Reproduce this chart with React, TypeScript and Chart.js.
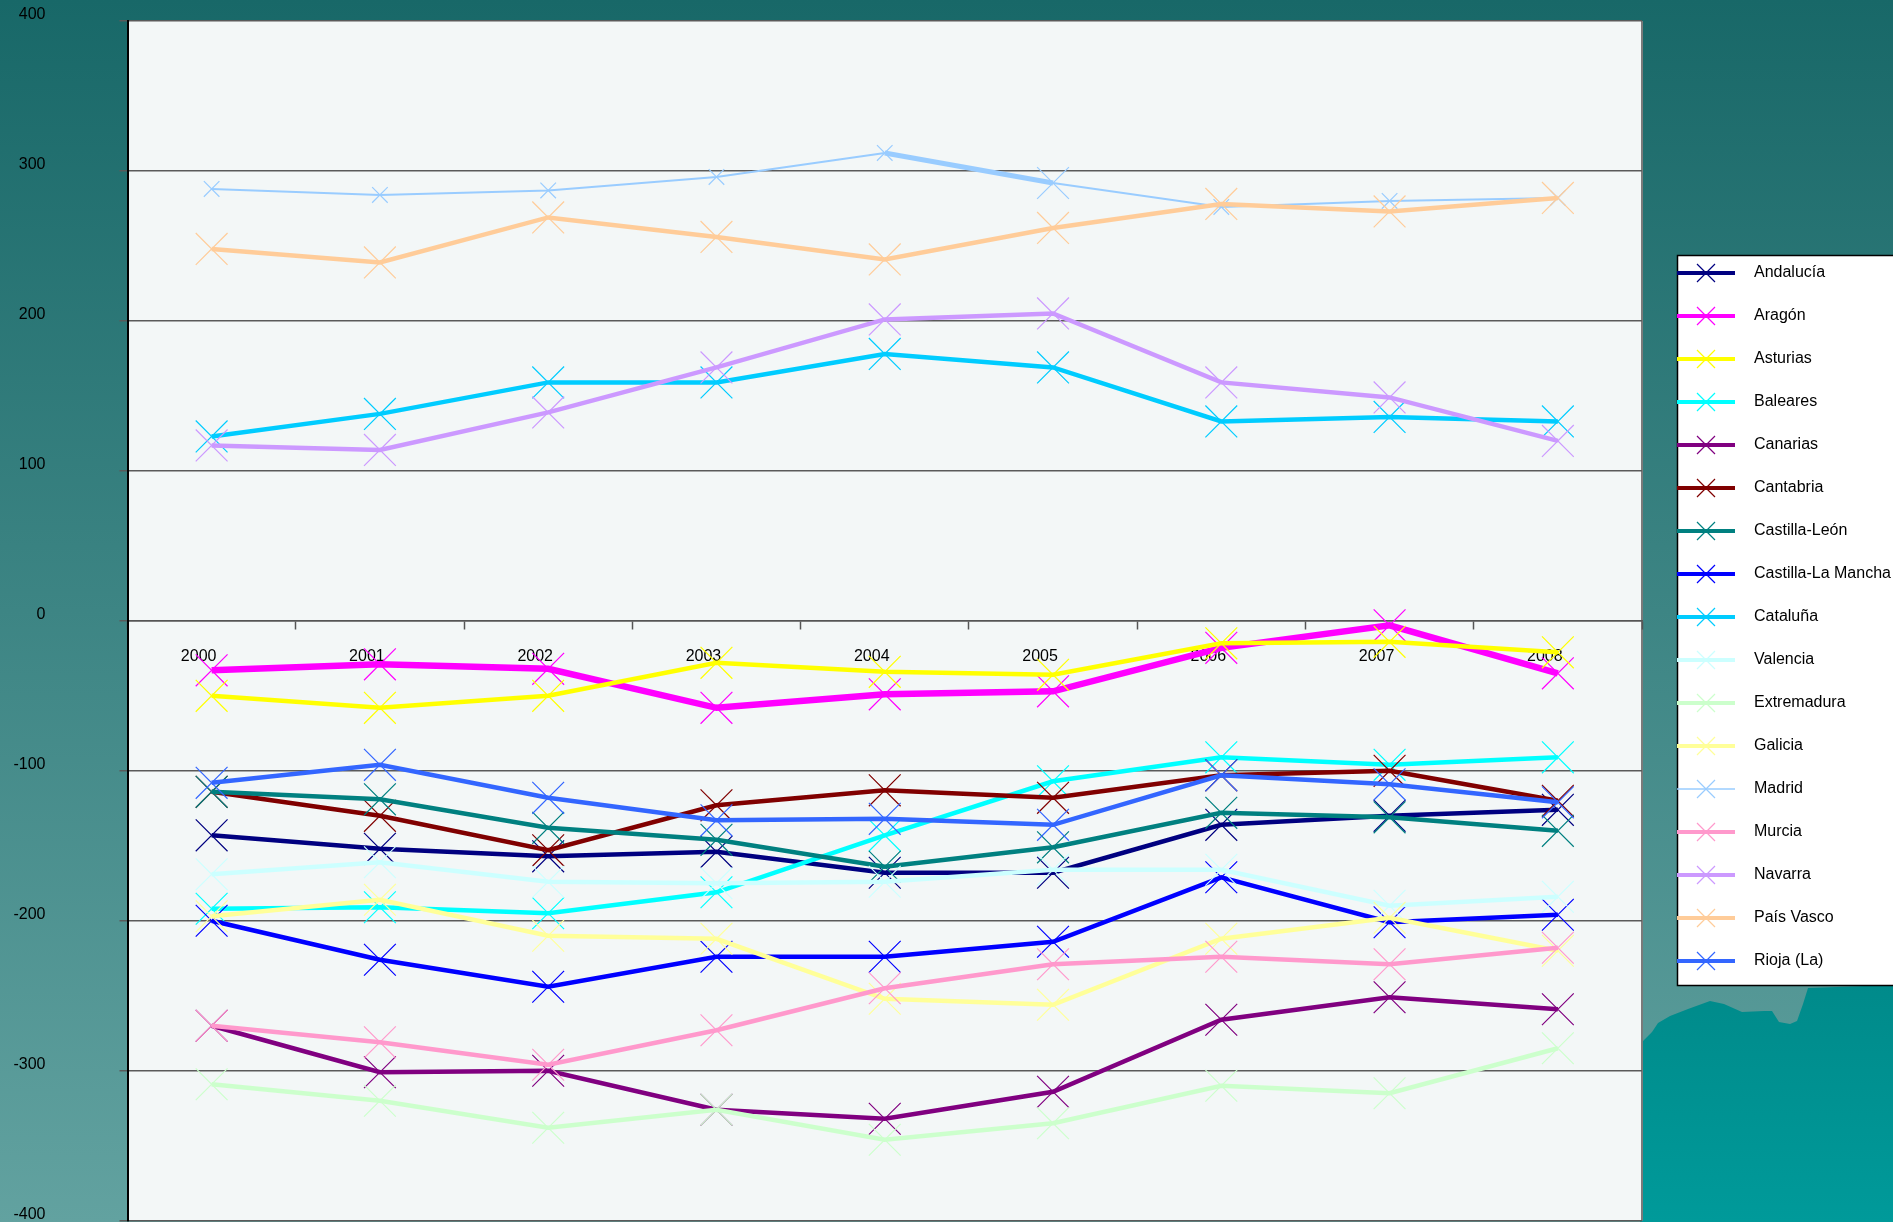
import React, { useEffect, useRef } from 'react';
import { Chart, registerables } from 'chart.js';

Chart.register(...registerables);

const years = ['2000', '2001', '2002', '2003', '2004', '2005', '2006', '2007', '2008'];

const regionNames = [
  'Andalucía', 'Aragón', 'Asturias', 'Baleares', 'Canarias', 'Cantabria',
  'Castilla-León', 'Castilla-La Mancha', 'Cataluña', 'Valencia', 'Extremadura',
  'Galicia', 'Madrid', 'Murcia', 'Navarra', 'País Vasco', 'Rioja (La)',
];

const andalucia = [-143, -152, -157, -154, -168, -168, -136, -130, -126];
const aragon = [-33, -29, -32, -58, -49, -47, -18, -3, -35];
const asturias = [-50, -58, -50, -28, -34, -36, -15, -14, -21];
const baleares = [-192, -191, -195, -181, -143, -107, -91, -96, -91];
const canarias = [-270, -301, -300, -326, -332, -314, -266, -251, -259];
const cantabria = [-114, -130, -153, -123, -113, -118, -103, -100, -120];
const castillaLeon = [-114, -119, -138, -146, -164, -151, -128, -131, -140];
const castillaLaMancha = [-200, -226, -244, -224, -224, -214, -171, -201, -196];
const cataluna = [123, 138, 159, 159, 178, 169, 133, 136, 133];
const valencia = [-169, -161, -174, -175, -174, -166, -166, -190, -184];
const extremadura = [-309, -320, -338, -326, -346, -335, -310, -315, -285];
const galicia = [-197, -186, -210, -212, -252, -256, -212, -198, -220];
const madrid = [288, 284, 287, 296, 312, 292, 276, 280, 282];
const murcia = [-270, -281, -296, -273, -245, -229, -224, -229, -218];
const navarra = [117, 114, 139, 169, 201, 205, 159, 149, 120];
const paisVasco = [248, 239, 269, 256, 241, 262, 278, 273, 282];
const rioja = [-108, -96, -118, -133, -132, -136, -103, -109, -121];

const seriesValues = [
  andalucia, aragon, asturias, baleares, canarias, cantabria, castillaLeon,
  castillaLaMancha, cataluna, valencia, extremadura, galicia, madrid, murcia,
  navarra, paisVasco, rioja,
];

const seriesColors = [
  '#000080', '#FF00FF', '#FFFF00', '#00FFFF', '#800080', '#800000', '#008080',
  '#0000FF', '#00CCFF', '#CCFFFF', '#CCFFCC', '#FFFF99', '#99CCFF', '#FF99CC',
  '#CC99FF', '#FFCC99', '#3366FF',
];

const yTickValues = [-400, -300, -200, -100, 0, 100, 200, 300, 400];

const SANS = '"Liberation Sans", Arial, sans-serif';

const lineWidthFor = (name: string) => (name === 'Aragón' ? 6.5 : name === 'Madrid' ? 2 : 4.5);

function makeLegendImage(color: string, lw: number) {
  const c = document.createElement('canvas');
  c.width = 77;
  c.height = 24;
  const ctx = c.getContext('2d') as CanvasRenderingContext2D;
  ctx.strokeStyle = color;
  ctx.lineWidth = lw;
  ctx.beginPath();
  ctx.moveTo(8, 12);
  ctx.lineTo(66, 12);
  ctx.stroke();
  ctx.lineWidth = 1.2;
  ctx.beginPath();
  ctx.moveTo(28, 3);
  ctx.lineTo(46, 21);
  ctx.moveTo(28, 21);
  ctx.lineTo(46, 3);
  ctx.stroke();
  return c;
}

const backgroundPlugin = {
  id: 'backgroundPlugin',
  beforeDraw(chart: any) {
    const { ctx, width, height, chartArea: ca } = chart;
    ctx.save();
    const g = ctx.createLinearGradient(0, 0, 0, height);
    g.addColorStop(0, '#186868');
    g.addColorStop(1, '#62a2a0');
    ctx.fillStyle = g;
    ctx.fillRect(0, 0, width, height);

    const mg = ctx.createLinearGradient(0, 980, 0, height);
    mg.addColorStop(0, '#008a8a');
    mg.addColorStop(1, '#009a9a');
    ctx.fillStyle = mg;
    ctx.beginPath();
    ctx.moveTo(1640, 1044);
    ctx.lineTo(1652, 1032);
    ctx.lineTo(1658, 1023);
    ctx.lineTo(1670, 1016);
    ctx.lineTo(1688, 1009);
    ctx.lineTo(1710, 1001);
    ctx.lineTo(1724, 1004);
    ctx.lineTo(1742, 1012);
    ctx.lineTo(1764, 1011);
    ctx.lineTo(1772, 1011);
    ctx.lineTo(1779, 1022);
    ctx.lineTo(1790, 1024);
    ctx.lineTo(1797, 1021);
    ctx.lineTo(1803, 1004);
    ctx.lineTo(1808, 988);
    ctx.lineTo(1893, 985);
    ctx.lineTo(1893, height);
    ctx.lineTo(1640, height);
    ctx.closePath();
    ctx.fill();

    ctx.fillStyle = '#f3f7f7';
    ctx.fillRect(ca.left, ca.top, ca.right - ca.left, ca.bottom - ca.top);
    ctx.strokeStyle = '#7a7a7a';
    ctx.lineWidth = 2;
    ctx.beginPath();
    ctx.moveTo(ca.right, ca.top);
    ctx.lineTo(ca.right, ca.bottom);
    ctx.stroke();

    ctx.fillStyle = '#ffffff';
    ctx.fillRect(1677.5, 255.5, 240, 730);
    ctx.strokeStyle = '#000000';
    ctx.lineWidth = 1.5;
    ctx.strokeRect(1677.5, 255.5, 240, 730);
    ctx.restore();
  },
};

export default function App() {
  const ref = useRef<HTMLCanvasElement | null>(null);

  useEffect(() => {
    if (!ref.current) return;
    const legendImgs = regionNames.map((n, i) =>
      makeLegendImage(seriesColors[i], n === 'Madrid' ? 1.5 : 4)
    );

    const datasets = regionNames.map((name, i) => {
      const isMadrid = name === 'Madrid';
      return {
        label: name,
        data: seriesValues[i],
        borderColor: seriesColors[i],
        backgroundColor: seriesColors[i],
        borderWidth: lineWidthFor(name),
        pointStyle: 'crossRot',
        pointRadius: isMadrid ? [11, 11, 11, 11, 11, 22.5, 11, 11, 11] : 22.5,
        pointBorderWidth: 1.2,
        pointBorderColor: seriesColors[i],
        pointBackgroundColor: seriesColors[i],
        tension: 0,
        order: -i,
        segment: isMadrid
          ? { borderWidth: (c: any) => (c.p0DataIndex === 4 ? 5 : 2) }
          : undefined,
      };
    });

    const chart = new Chart(ref.current, {
      type: 'line',
      data: { labels: years, datasets: datasets as any },
      plugins: [backgroundPlugin],
      options: {
        responsive: false,
        animation: false,
        devicePixelRatio: 1,
        events: [],
        layout: { autoPadding: false, padding: { top: 21, bottom: 1.3, left: 0, right: 0 } },
        plugins: {
          tooltip: { enabled: false },
          legend: {
            display: true,
            position: 'right',
            maxWidth: 251,
            title: { display: true, text: '', font: { size: 1 }, padding: { top: 0, bottom: -9 } },
            labels: {
              usePointStyle: true,
              pointStyleWidth: 77,
              boxHeight: 16,
              padding: 27,
              color: '#000000',
              font: { family: SANS, size: 16 },
              generateLabels: (ch: any) => {
                const items = (Chart.defaults.plugins.legend.labels as any).generateLabels(ch);
                items.forEach((it: any) => {
                  it.pointStyle = legendImgs[it.datasetIndex];
                });
                return items;
              },
              sort: (a: any, b: any) => a.datasetIndex - b.datasetIndex,
            },
          },
        },
        scales: {
          x: {
            type: 'category',
            offset: true,
            position: { y: 0 } as any,
            grid: {
              offset: true,
              drawOnChartArea: false,
              drawTicks: true,
              tickLength: 8,
              tickColor: '#555555',
              tickWidth: 1.5,
            },
            border: { display: true, color: '#555555', width: 1.5 },
            ticks: {
              color: '#000000',
              font: { family: SANS, size: 16 },
              padding: 18.5,
              labelOffset: -13,
              maxRotation: 0,
              minRotation: 0,
              autoSkip: false,
            },
            afterFit: (s: any) => {
              s.paddingLeft = 0;
              s.paddingRight = 0;
              s.paddingTop = 0;
              s.paddingBottom = 0;
            },
          },
          y: {
            type: 'linear',
            min: -400,
            max: 400,
            afterBuildTicks: (s: any) => {
              s.ticks = yTickValues.map((v) => ({ value: v }));
            },
            grid: {
              color: '#5a5a5a',
              lineWidth: 1.5,
              drawTicks: true,
              tickLength: 8,
              tickColor: '#5a5a5a',
            },
            border: { display: true, color: '#000000', width: 2 },
            ticks: {
              color: '#000000',
              font: { family: SANS, size: 16 },
              padding: 74,
              crossAlign: 'near',
              labelOffset: -6,
            },
            afterFit: (s: any) => {
              s.width = 127.5;
              s.paddingTop = 0;
              s.paddingBottom = 0;
              s.paddingLeft = 0;
              s.paddingRight = 0;
            },
          },
        },
      } as any,
    });

    return () => chart.destroy();
  }, []);

  return (
    <div style={{ position: 'fixed', left: 0, top: 0, width: 1893, height: 1222, overflow: 'hidden' }}>
      <canvas ref={ref} width={1893} height={1222} style={{ display: 'block', width: 1893, height: 1222 }} />
    </div>
  );
}
